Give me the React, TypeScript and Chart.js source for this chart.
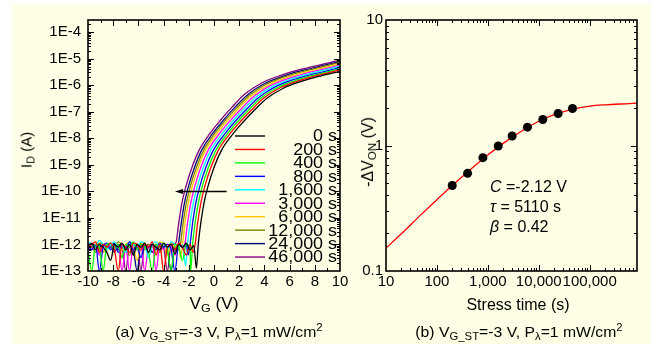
import React, { useEffect, useRef } from 'react';
import { Chart, registerables } from 'chart.js';
Chart.register(...registerables);

const FONT = '"Liberation Sans", Arial, Helvetica, sans-serif';
const BG = '#FFFFE6';

// ---------------- Panel (a): transfer curves ----------------
const stressLabels = ['0 s', '200 s', '400 s', '800 s', '1,600 s', '3,000 s', '6,000 s', '12,000 s', '24,000 s', '46,000 s'];
const seriesColors = ['#000000', '#FF0000', '#00FF00', '#0000FF', '#00FFFF', '#FF00FF', '#FFC800', '#808000', '#000080', '#800080'];
const vgTickValues = [-10, -8, -6, -4, -2, 0, 2, 4, 6, 8, 10];
const logIdTickValues = [-13, -12, -11, -10, -9, -8, -7, -6, -5, -4];

// off-state noise floor (log10 of I_D) on a common V_G grid
const vgFloor = [-10, -9.7, -9.4, -9.1, -8.8, -8.5, -8.2, -7.9, -7.6, -7.3, -7.0, -6.7, -6.4, -6.1, -5.8, -5.5, -5.2, -4.9, -4.6, -4.3, -4.0, -3.7, -3.4, -3.1, -2.8, -2.5, -2.2, -1.9, -1.6];
const floorLogId = [
  [-12.05, -11.95, -12.2, -12.0, -12.1, -12.3, -12.6, -12.0, -12.1, -11.95, -12.2, -12.0, -12.4, -12.0, -12.1, -11.95, -12.3, -12.0, -12.1, -12.2, -11.95, -12.1, -12.0, -12.35, -12.0, -12.1, -11.95, -12.2, -12.05],
  [-12.1, -12.0, -11.9, -12.3, -12.0, -12.1, -11.95, -12.2, -13.0, -12.0, -12.1, -12.3, -11.95, -12.0, -12.2, -12.0, -12.1, -11.9, -12.4, -12.0, -13.0, -12.1, -12.0, -12.2, -11.95, -12.1, -12.4, -12.0, -12.1],
  [-12.2, -13.0, -12.0, -12.1, -13.0, -12.0, -11.95, -12.2, -12.0, -12.5, -12.0, -12.1, -11.9, -12.2, -12.0, -12.1, -12.3, -13.0, -12.0, -12.1, -11.95, -12.2, -13.0, -12.0, -12.1, -12.6, -12.0, -12.1, -12.0],
  [-12.0, -12.2, -12.0, -13.0, -12.1, -11.95, -12.2, -12.0, -12.3, -12.0, -12.1, -11.9, -12.2, -12.0, -12.5, -12.0, -12.1, -12.0, -12.2, -11.95, -12.1, -12.0, -12.2, -13.0, -12.0, -12.1, -12.0, -12.2, -12.0],
  [-11.9, -12.0, -12.1, -11.85, -12.0, -12.2, -12.0, -11.9, -12.1, -12.0, -12.3, -11.9, -12.0, -12.1, -11.9, -12.0, -12.5, -12.0, -11.9, -12.1, -12.0, -12.2, -11.9, -12.0, -12.1, -12.0, -12.2, -12.0, -12.1],
  [-12.0, -12.2, -12.0, -12.4, -12.0, -12.1, -12.0, -12.2, -12.0, -13.0, -12.1, -13.0, -12.0, -12.2, -12.0, -13.0, -12.1, -12.0, -13.0, -12.0, -12.2, -12.0, -12.1, -12.4, -12.0, -12.1, -12.0, -12.0, -12.0],
  [-12.1, -12.0, -11.9, -12.1, -12.3, -12.0, -11.95, -12.1, -12.0, -12.2, -12.0, -11.9, -12.1, -12.6, -12.0, -11.95, -12.1, -12.0, -12.2, -11.9, -12.0, -12.4, -12.0, -12.1, -12.0, -12.0, -12.0, -12.0, -12.0],
  [-12.0, -12.1, -12.3, -11.95, -12.0, -12.2, -12.0, -12.1, -11.9, -12.0, -12.2, -12.4, -12.0, -12.1, -11.95, -12.2, -12.0, -12.1, -12.0, -12.3, -12.0, -12.1, -11.95, -12.0, -12.0, -12.0, -12.0, -12.0, -12.0],
  [-12.2, -12.0, -12.1, -12.0, -12.3, -12.0, -12.1, -11.95, -12.2, -12.0, -12.1, -12.0, -12.2, -13.0, -12.0, -12.1, -12.0, -12.3, -12.0, -12.1, -12.0, -12.2, -13.0, -12.1, -12.0, -12.0, -12.0, -12.0, -12.0],
  [-11.95, -12.1, -12.0, -12.2, -12.0, -12.1, -12.0, -12.3, -12.0, -12.1, -13.0, -12.0, -12.2, -12.0, -13.0, -12.0, -12.1, -12.0, -12.2, -12.0, -12.1, -13.0, -12.0, -12.0, -12.0, -12.0, -12.0, -12.0, -12.0],
];

// turn-on / on-state part of every curve: V_G points and log10(I_D)
const riseVg = [
  [-1.4, -1.25, -1.05, -0.8, -0.5, 0, 0.6, 1.4, 2.3, 3.2, 4.2, 5.5, 7, 8.5, 10, 12],
  [-1.65, -1.5, -1.3, -1.05, -0.75, -0.25, 0.35, 1.15, 2.05, 2.95, 3.95, 5.25, 6.75, 8.25, 9.75, 11.75],
  [-1.85, -1.7, -1.5, -1.25, -0.95, -0.45, 0.15, 0.95, 1.85, 2.75, 3.75, 5.05, 6.55, 8.05, 9.55, 11.55],
  [-2.05, -1.9, -1.7, -1.45, -1.15, -0.65, -0.05, 0.75, 1.65, 2.55, 3.55, 4.85, 6.35, 7.85, 9.35, 11.35],
  [-2.25, -2.1, -1.9, -1.65, -1.35, -0.85, -0.25, 0.55, 1.45, 2.35, 3.35, 4.65, 6.15, 7.65, 9.15, 11.15],
  [-2.45, -2.3, -2.1, -1.85, -1.55, -1.05, -0.45, 0.35, 1.25, 2.15, 3.15, 4.45, 5.95, 7.45, 8.95, 10.95],
  [-2.65, -2.5, -2.3, -2.05, -1.75, -1.25, -0.65, 0.15, 1.05, 1.95, 2.95, 4.25, 5.75, 7.25, 8.75, 10.75],
  [-2.8, -2.65, -2.45, -2.2, -1.9, -1.4, -0.8, 0, 0.9, 1.8, 2.8, 4.1, 5.6, 7.1, 8.6, 10.6],
  [-2.95, -2.8, -2.6, -2.35, -2.05, -1.55, -0.95, -0.15, 0.75, 1.65, 2.65, 3.95, 5.45, 6.95, 8.45, 10.45],
  [-3.15, -3.0, -2.8, -2.55, -2.25, -1.75, -1.15, -0.35, 0.55, 1.45, 2.45, 3.75, 5.25, 6.75, 8.25, 10.25],
];
const riseLogId = [
  [-12.9, -12.0, -11.2, -10.45, -9.85, -9.1, -8.45, -7.9, -7.4, -6.95, -6.5, -6.12, -5.85, -5.65, -5.48, -5.25],
  [-12.3, -12.0, -11.2, -10.45, -9.85, -9.1, -8.45, -7.9, -7.4, -6.95, -6.49, -6.1, -5.83, -5.63, -5.46, -5.23],
  [-13.0, -12.0, -11.2, -10.45, -9.85, -9.1, -8.45, -7.9, -7.39, -6.94, -6.48, -6.09, -5.81, -5.61, -5.44, -5.21],
  [-12.4, -12.0, -11.2, -10.45, -9.85, -9.1, -8.45, -7.9, -7.38, -6.93, -6.47, -6.07, -5.79, -5.59, -5.42, -5.19],
  [-12.8, -12.0, -11.2, -10.45, -9.85, -9.1, -8.44, -7.89, -7.37, -6.91, -6.45, -6.05, -5.77, -5.56, -5.39, -5.16],
  [-12.2, -11.95, -11.2, -10.45, -9.85, -9.1, -8.44, -7.88, -7.36, -6.9, -6.43, -6.03, -5.75, -5.54, -5.37, -5.14],
  [-12.5, -12.0, -11.2, -10.45, -9.85, -9.1, -8.43, -7.87, -7.35, -6.88, -6.41, -6.01, -5.72, -5.51, -5.34, -5.11],
  [-12.2, -11.95, -11.2, -10.45, -9.85, -9.1, -8.43, -7.86, -7.33, -6.86, -6.39, -5.98, -5.69, -5.48, -5.31, -5.08],
  [-12.3, -11.9, -11.2, -10.45, -9.85, -9.1, -8.42, -7.85, -7.32, -6.84, -6.37, -5.96, -5.67, -5.46, -5.29, -5.06],
  [-12.0, -11.9, -11.2, -10.45, -9.85, -9.1, -8.42, -7.84, -7.3, -6.82, -6.34, -5.93, -5.64, -5.43, -5.26, -5.03],
];
const shiftArrow = { from: 1.0, to: -3.1, level: -10 };

// ---------------- Panel (b): -dV_ON vs stress time ----------------
const stressTime = [200, 400, 800, 1600, 3000, 6000, 12000, 24000, 46000];
const deltaVon = [0.48, 0.6, 0.8, 0.99, 1.19, 1.4, 1.61, 1.8, 1.97];
const fitTime = [10, 20, 50, 100, 200, 500, 1000, 2000, 5000, 10000, 20000, 50000, 100000, 200000, 500000, 850000];
const fitDeltaVon = [0.152, 0.198, 0.284, 0.37, 0.48, 0.665, 0.84, 1.04, 1.33, 1.56, 1.76, 1.96, 2.06, 2.11, 2.15, 2.17];
const timeTickValues = [10, 100, 1000, 10000, 100000];
const dvTickValues = [0.1, 1, 10];

const withCommas = (v: number) => String(v).replace(/\B(?=(\d{3})+(?!\d))/g, ',');

function framePlugin(getTicks: (chart: any) => { xMajor: number[]; xMinor: number[]; yMajor: number[]; yMinor: number[] }) {
  return {
    id: 'frameTicks',
    afterDatasetsDraw(chart: any) {
      const { ctx, chartArea: a, scales } = chart;
      const xs = scales.x, ys = scales.y;
      const t = getTicks(chart);
      ctx.save();
      ctx.strokeStyle = '#000';
      ctx.lineWidth = 1;
      ctx.beginPath();
      const xt = (vals: number[], len: number) => {
        for (const v of vals) {
          const p = Math.round(xs.getPixelForValue(v)) + 0.5;
          if (p < a.left + 1 || p > a.right - 1) continue;
          ctx.moveTo(p, a.bottom); ctx.lineTo(p, a.bottom - len);
          ctx.moveTo(p, a.top); ctx.lineTo(p, a.top + len);
        }
      };
      const yt = (vals: number[], len: number) => {
        for (const v of vals) {
          const p = Math.round(ys.getPixelForValue(v)) + 0.5;
          if (p < a.top + 1 || p > a.bottom - 1) continue;
          ctx.moveTo(a.left, p); ctx.lineTo(a.left + len, p);
          ctx.moveTo(a.right, p); ctx.lineTo(a.right - len, p);
        }
      };
      xt(t.xMajor, 6); xt(t.xMinor, 3); yt(t.yMajor, 6); yt(t.yMinor, 3);
      ctx.stroke();
      ctx.lineWidth = 1.6;
      ctx.strokeRect(a.left, a.top, a.right - a.left, a.bottom - a.top);
      ctx.restore();
    },
  };
}

const legendPlugin = {
  id: 'legendA',
  afterDatasetsDraw(chart: any) {
    const { ctx, chartArea: a } = chart;
    ctx.save();
    ctx.font = `16px ${FONT}`;
    ctx.textBaseline = 'middle';
    ctx.textAlign = 'right';
    stressLabels.forEach((lab, i) => {
      const y = a.top + 116 + i * 13.45;
      ctx.strokeStyle = seriesColors[i];
      ctx.lineWidth = 1.4;
      ctx.beginPath();
      ctx.moveTo(a.left + 147, y);
      ctx.lineTo(a.left + 177, y);
      ctx.stroke();
      ctx.fillStyle = '#000';
      ctx.save();
      ctx.translate(a.right - 3, y + 1);
      ctx.scale(1.12, 1);
      ctx.fillText(lab, 0, 0);
      ctx.restore();
    });
    // arrow showing the negative shift
    const xs = chart.scales.x, ys = chart.scales.y;
    const y = Math.round(ys.getPixelForValue(shiftArrow.level)) + 0.5;
    const x1 = xs.getPixelForValue(shiftArrow.from);
    const x0 = xs.getPixelForValue(shiftArrow.to);
    ctx.strokeStyle = '#000';
    ctx.lineWidth = 1.3;
    ctx.beginPath();
    ctx.moveTo(x1, y); ctx.lineTo(x0 + 5, y);
    ctx.stroke();
    ctx.fillStyle = '#000';
    ctx.beginPath();
    ctx.moveTo(x0, y); ctx.lineTo(x0 + 8, y - 2.5); ctx.lineTo(x0 + 8, y + 2.5); ctx.closePath();
    ctx.fill();
    ctx.restore();
  },
};

const tickFont = { family: FONT, size: 15 };

function PanelA() {
  const ref = useRef<HTMLCanvasElement>(null);
  useEffect(() => {
    const datasets = stressLabels.map((lab, i) => {
      const first = riseVg[i][0];
      const floorPts = vgFloor.filter((v) => v < first).map((v, k) => ({ x: v, y: floorLogId[i][k] }));
      const risePts = riseVg[i].map((v, k) => ({ x: v, y: riseLogId[i][k] }));
      return {
        label: lab,
        data: floorPts.concat(risePts),
        showLine: true,
        borderColor: seriesColors[i],
        backgroundColor: seriesColors[i],
        borderWidth: 1.3,
        pointRadius: 0,
        cubicInterpolationMode: 'monotone' as const,
      };
    });
    const yMinor: number[] = [];
    logIdTickValues.forEach((d) => { for (let k = 2; k <= 9; k++) yMinor.push(d + Math.log10(k)); });
    const xMinor = [-9, -7, -5, -3, -1, 1, 3, 5, 7, 9];
    const chart = new Chart(ref.current!, {
      type: 'scatter',
      data: { datasets },
      options: {
        animation: false,
        responsive: false,
        maintainAspectRatio: false,
        layout: { padding: { left: 0, top: 20, right: 20, bottom: 0 } },
        plugins: { legend: { display: false }, tooltip: { enabled: false } },
        scales: {
          x: {
            type: 'linear', min: -10, max: 10,
            afterBuildTicks: (s: any) => { s.ticks = vgTickValues.map((v) => ({ value: v })); },
            afterFit: (s: any) => { s.height = 73; },
            grid: { display: false, drawTicks: false },
            border: { display: false },
            ticks: { color: '#000', font: tickFont, padding: 2, maxRotation: 0, autoSkip: false },
          },
          y: {
            type: 'linear', min: -13, max: -3.55,
            afterBuildTicks: (s: any) => { s.ticks = logIdTickValues.map((v) => ({ value: v })); },
            afterFit: (s: any) => { s.width = 88; },
            grid: { display: false, drawTicks: false },
            border: { display: false },
            ticks: { color: '#000', font: tickFont, padding: 7, autoSkip: false, callback: (v: any) => '1E' + v },
          },
        },
      },
      plugins: [
        framePlugin(() => ({ xMajor: vgTickValues, xMinor, yMajor: logIdTickValues, yMinor })),
        legendPlugin,
      ],
    } as any);
    return () => chart.destroy();
  }, []);
  return <canvas ref={ref} width={360} height={344} style={{ position: 'absolute', left: 0, top: 0, width: 360, height: 344 }} />;
}

function PanelB() {
  const ref = useRef<HTMLCanvasElement>(null);
  useEffect(() => {
    const xMinor: number[] = [];
    timeTickValues.forEach((d) => { for (let k = 2; k <= 9; k++) xMinor.push(d * k); });
    const yMinor: number[] = [];
    [0.1, 1].forEach((d) => { for (let k = 2; k <= 9; k++) yMinor.push(d * k); });
    const chart = new Chart(ref.current!, {
      type: 'scatter',
      data: {
        datasets: [
          {
            label: 'data',
            data: stressTime.map((t, i) => ({ x: t, y: deltaVon[i] })),
            pointRadius: 4.5,
            pointBackgroundColor: '#000',
            pointBorderColor: '#000',
            pointBorderWidth: 0,
            showLine: false,
            order: 0,
          },
          {
            label: 'fit',
            data: fitTime.map((t, i) => ({ x: t, y: fitDeltaVon[i] })),
            showLine: true,
            borderColor: '#FF0000',
            borderWidth: 1.3,
            pointRadius: 0,
            cubicInterpolationMode: 'monotone',
            order: 1,
          },
        ],
      },
      options: {
        animation: false,
        responsive: false,
        maintainAspectRatio: false,
        layout: { padding: { left: 0, top: 20, right: 14, bottom: 0 } },
        plugins: { legend: { display: false }, tooltip: { enabled: false } },
        scales: {
          x: {
            type: 'logarithmic', min: 10, max: 850000,
            afterBuildTicks: (s: any) => { s.ticks = timeTickValues.map((v) => ({ value: v })); },
            afterFit: (s: any) => { s.height = 73; },
            grid: { display: false, drawTicks: false },
            border: { display: false },
            ticks: { color: '#000', font: tickFont, padding: 2, maxRotation: 0, autoSkip: false, callback: (v: any) => withCommas(Number(v)) },
          },
          y: {
            type: 'logarithmic', min: 0.1, max: 10,
            afterBuildTicks: (s: any) => { s.ticks = dvTickValues.map((v) => ({ value: v })); },
            afterFit: (s: any) => { s.width = 41; },
            grid: { display: false, drawTicks: false },
            border: { display: false },
            ticks: { color: '#000', font: tickFont, padding: 3, autoSkip: false, callback: (v: any) => String(v) },
          },
        },
      },
      plugins: [framePlugin(() => ({ xMajor: timeTickValues, xMinor, yMajor: dvTickValues, yMinor }))],
    } as any);
    return () => chart.destroy();
  }, []);
  return <canvas ref={ref} width={306} height={344} style={{ position: 'absolute', left: 345, top: 0, width: 306, height: 344 }} />;
}

function Txt(props: { x: number; y: number; size: number; rot?: number; sx?: number; left?: boolean; children: any }) {
  const { x, y, size, rot = 0, sx = 1, left = false, children } = props;
  return (
    <div
      style={{
        position: 'absolute', left: x, top: y,
        transform: `translate(${left ? '0' : '-50%'},-50%) rotate(${rot}deg) scaleX(${sx})`,
        transformOrigin: left ? 'left center' : 'center center',
        fontFamily: FONT, fontSize: size, lineHeight: 1, whiteSpace: 'nowrap', color: '#000',
      }}
    >
      {children}
    </div>
  );
}

const subS: React.CSSProperties = { fontSize: '0.72em', verticalAlign: '-0.3em', lineHeight: 0 };
const supS: React.CSSProperties = { fontSize: '0.72em', verticalAlign: '0.5em', lineHeight: 0 };

export default function App() {
  return (
    <div style={{ position: 'absolute', left: 0, top: 0, width: 651, height: 344, overflow: 'hidden', background: '#FFFFFF' }}>
      <div style={{ position: 'absolute', left: 12, top: 4, width: 639, height: 340, background: BG }} />
      <PanelA />
      <PanelB />
      <Txt x={26} y={150} size={15} rot={-90}>I<span style={subS}>D</span> (A)</Txt>
      <Txt x={214} y={304} size={16} sx={1.08}>V<span style={subS}>G</span> (V)</Txt>
      <Txt x={219} y={331} size={15} sx={1.05}>(a) V<span style={subS}>G_ST</span>=-3 V, P<span style={subS}>λ</span>=1 mW/cm<span style={supS}>2</span></Txt>
      <Txt x={368} y={152} size={16} rot={-90}>-ΔV<span style={subS}>ON</span> (V)</Txt>
      <Txt x={518} y={305} size={16}>Stress time (s)</Txt>
      <Txt x={519} y={331} size={15} sx={1.05}>(b) V<span style={subS}>G_ST</span>=-3 V, P<span style={subS}>λ</span>=1 mW/cm<span style={supS}>2</span></Txt>
      <Txt x={490} y={187} size={16} left><i>C</i> =-2.12 V</Txt>
      <Txt x={490} y={207} size={16} left><i>τ</i> = 5110 s</Txt>
      <Txt x={490} y={227} size={16} left><i>β</i> = 0.42</Txt>
    </div>
  );
}
